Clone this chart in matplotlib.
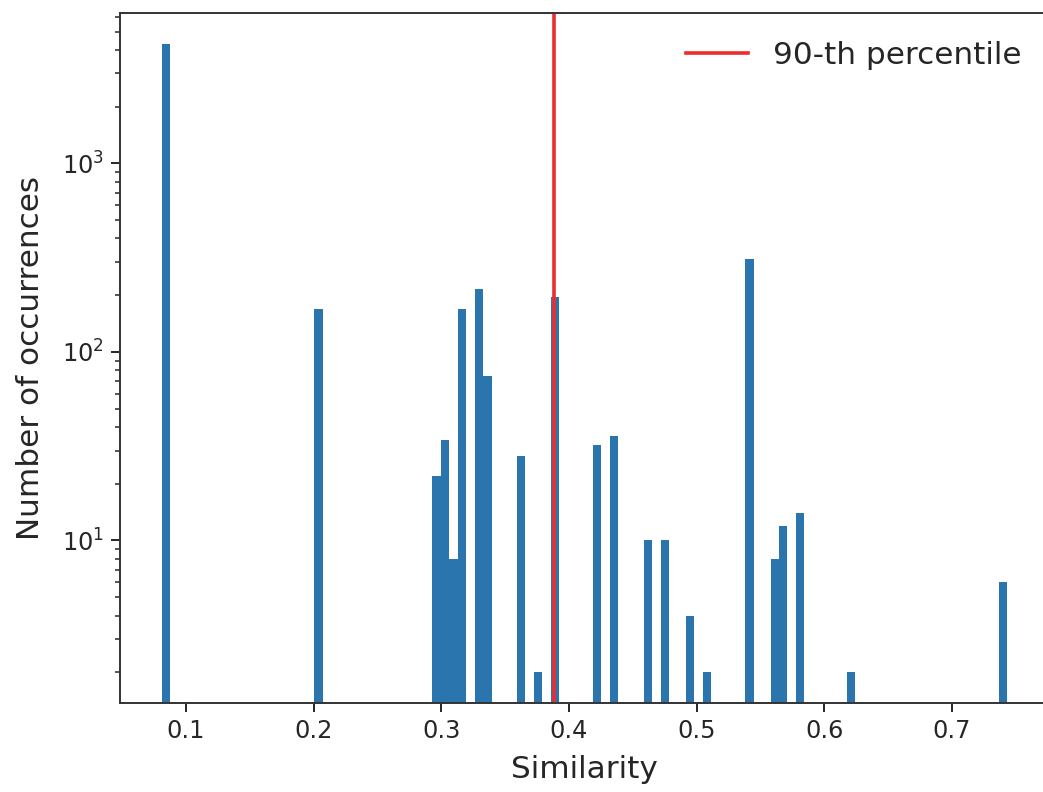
import numpy as np
import matplotlib
matplotlib.use("Agg")
import matplotlib.pyplot as plt

# similarity values (bin centres) and their counts
similarity = [0.0845, 0.2037, 0.2964, 0.3030, 0.3096, 0.3162, 0.3295, 0.3361,
              0.3626, 0.3758, 0.3890, 0.4221, 0.4353, 0.4618, 0.4750, 0.4949,
              0.5081, 0.5412, 0.5611, 0.5677, 0.5809, 0.6206, 0.7398]
occurrences = [4300, 170, 22, 34, 8, 170, 215, 75,
               28, 2, 195, 32, 36, 10, 10, 4,
               2, 310, 8, 12, 14, 2, 6]
sim_min, sim_max = 0.0812, 0.7432
n_bins = 100
percentile_90 = 0.3885

text_col = "#262626"
plt.rcParams["font.family"] = "DejaVu Sans"
plt.rcParams["text.color"] = text_col
plt.rcParams["axes.labelcolor"] = text_col
plt.rcParams["xtick.color"] = text_col
plt.rcParams["ytick.color"] = text_col

fig = plt.figure(figsize=(10.43, 7.92), dpi=100)
ax = fig.add_axes([120 / 1043, 1 - 703 / 792, 929.5 / 1043, 690 / 792])

ax.hist(similarity, bins=n_bins, range=(sim_min, sim_max), weights=occurrences,
        color="#2a75ae", log=True)
ax.axvline(percentile_90, color="#ec2d2d", linewidth=2.6, label="90-th percentile")

ax.set_yscale("log")
ax.set_xlim(0.0483, 0.77635)
ax.set_ylim(1.374, 6280)
ax.set_xticks([0.1, 0.2, 0.3, 0.4, 0.5, 0.6, 0.7])

ax.set_xlabel("Similarity", fontsize=22.4, labelpad=9)
ax.set_ylabel("Number of occurrences", fontsize=22.4, labelpad=12)

for s in ax.spines.values():
    s.set_color("#333333")
    s.set_linewidth(1.4)

ax.tick_params(axis="both", which="major", labelsize=17.3, length=6.5, width=1.4,
               direction="out", pad=5)
ax.tick_params(axis="y", which="minor", length=3.7, width=1.1, direction="out")

ax.legend(loc="upper right", frameon=False, fontsize=22.4)

fig.savefig("out.png", dpi=100)
